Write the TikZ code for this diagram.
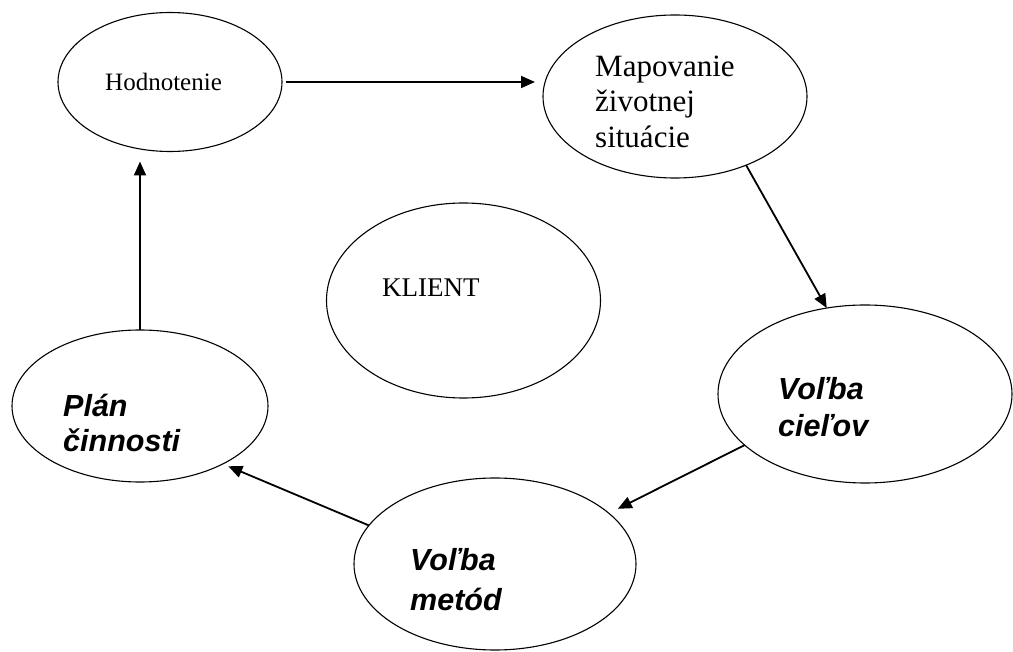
\documentclass[tikz,border=0pt]{standalone}
\usepackage{fontspec}
\setmainfont{Liberation Serif}
\newfontfamily\arialfont{Liberation Sans}
\usetikzlibrary{shapes.geometric,arrows.meta}
\begin{document}
\begin{tikzpicture}[x=1pt,y=-1pt,
  bubble/.style={draw, ellipse, line width=1.1pt, inner sep=0pt, outer sep=0pt},
  serif/.style={anchor=base west, inner sep=0pt, font=\fontsize{#1}{#1}\selectfont},
  bi/.style={anchor=base west, inner sep=0pt, font=\arialfont\bfseries\itshape\fontsize{30.5}{36}\selectfont},
  conn/.style={line width=1.8pt, -{Triangle[length=14pt,width=12pt]}}
]
\useasboundingbox (0,0) rectangle (1013,652);
\node[bubble, minimum width=224pt, minimum height=139pt] (hod) at (170,82) {};
\node[bubble, minimum width=264pt, minimum height=163pt] (map) at (675,96.5) {};
\node[bubble, minimum width=274pt, minimum height=195pt] (kli) at (463.5,300.5) {};
\node[bubble, minimum width=256pt, minimum height=152pt] (plan) at (140,406) {};
\node[bubble, minimum width=294pt, minimum height=178pt] (cie) at (865,394) {};
\node[bubble, minimum width=282pt, minimum height=172pt] (met) at (495,564) {};

\node[serif=25] (hodt) at (105,91) {Hodnotenie};
\node[serif=31] (mapt1) at (595,77) {Mapovanie};
\node[serif=31] (mapt2) at (595,112) {životnej};
\node[serif=31] (mapt3) at (595,148) {situácie};
\node[serif=27] (klit) at (382,297) {KLIENT};
\node[bi] (plant1) at (63,417) {Plán};
\node[bi] (plant2) at (63,452) {činnosti};
\node[bi] (ciet1) at (778,400) {Voľba};
\node[bi] (ciet2) at (778,437) {cieľov};
\node[bi] (mett1) at (410,570) {Voľba};
\node[bi] (mett2) at (410,610) {metód};

\draw[conn, shorten <=4pt, shorten >=8pt] (hod.east) -- (hod.east -| map.west);
\draw[conn] (map.-44) -- (cie.114);
\draw[conn, shorten >=10pt] (cie.-157.3) -- (met.24.9);
\draw[conn, shorten >=6pt] (met.163.8) -- (plan.-35.5);
\draw[conn, shorten >=10pt] (plan.north) -- (plan.north |- hod.south);
\end{tikzpicture}
\end{document}
